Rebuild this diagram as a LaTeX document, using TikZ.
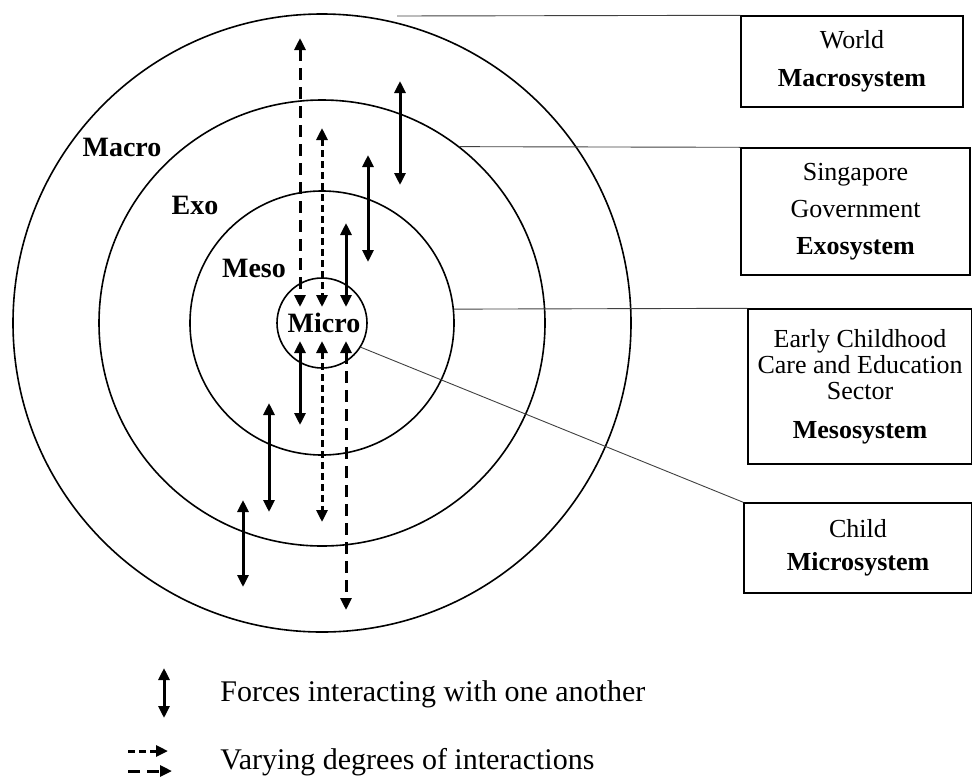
\documentclass[tikz,border=0pt]{standalone}
\usepackage{fontspec}
\setmainfont{Liberation Serif}
\usetikzlibrary{arrows.meta, positioning, calc}
\tikzset{
  ftip/.tip={Triangle[length=6pt,width=5.5pt]},
  ring/.style={draw, circle, line width=0.8pt, inner sep=0pt},
  sysbox/.style={draw, line width=0.7pt, align=center, inner sep=0pt, font=\fontsize{13}{13}\selectfont},
  leader/.style={line width=0.45pt, black!75},
  force/.style={line width=1.5pt, ftip-ftip},
  coarse/.style={force, dash pattern=on 6pt off 3.5pt},
  fine/.style={force, dash pattern=on 3.5pt off 2pt},
  lab/.style={font=\fontsize{14}{14}\selectfont\bfseries, anchor=base, inner sep=0pt},
  legendtext/.style={font=\fontsize{15}{15}\selectfont, anchor=base west, inner sep=0pt}
}

\begin{document}
\begin{tikzpicture}[x=0.5pt, y=-0.5pt]
\useasboundingbox (0,0) rectangle (972,776);

% Nested systems
\node[ring, minimum size=309pt] (macro) at (322,323) {};
\node[ring, minimum size=223pt] (exo) at (322,323) {};
\node[ring, minimum size=132pt] (meso) at (322,323) {};
\node[ring, minimum size=45pt] (micro) at (322,323) {};

\node[lab] (macrolab) at (122,156) {Macro};
\node[lab] (exolab) at (195,214) {Exo};
\node[lab] (mesolab) at (254,277) {Meso};
\node[lab] (microlab) at (324,332) {Micro};

% Forces
\draw[force] (400,81) -- (400,185);
\draw[force] (368,155) -- (368,262);
\draw[force] (346,223) -- (346,307);
\draw[force] (300,341) -- (300,425);
\draw[force] (269,403) -- (269,512);
\draw[force] (243,500) -- (243,587);

% Interactions
\draw[coarse] (300,38) -- (300,307);
\draw[coarse] (346,341) -- (346,610);
\draw[fine] (322,128) -- (322,307);
\draw[fine] (322,341) -- (322,522);

% Boxes
\node[sysbox, minimum width=111pt, minimum height=45.5pt] (world) at (852,61.5)
  {World\\[6pt]\textbf{Macrosystem}};
\node[sysbox, minimum width=114.5pt, minimum height=63.5pt] (singa) at (855.5,211.5)
  {Singapore\\[5.5pt]Government\\[5.5pt]\textbf{Exosystem}};
\node[sysbox, minimum width=112pt, minimum height=77.5pt] (ecce) at (860,386.5)
  {Early Childhood\\Care and Education\\Sector\\[6.5pt]\textbf{Mesosystem}};
\node[sysbox, minimum width=114pt, minimum height=45pt] (child) at (858,548)
  {Child\\[3.5pt]\textbf{Microsystem}};

% Leaders
\coordinate (wtop) at (397,16);
\draw[leader] (wtop) -- (world.north west);
\draw[leader] (exo.52) -- (singa.north west);
\draw[leader] (meso.6) -- (ecce.north west);
\draw[leader] (micro.-32) -- (child.north west);

% Legend
\draw[force] (164,668) -- (164,718);
\node[legendtext] (forcetxt) at (220,701) {Forces interacting with one another};
\draw[fine, -ftip] (128,751) -- (168,751);
\draw[coarse, -ftip] (128,771) -- (172,771);
\node[legendtext] (varytxt) at (220,769) {Varying degrees of interactions};
\end{tikzpicture}
\end{document}
